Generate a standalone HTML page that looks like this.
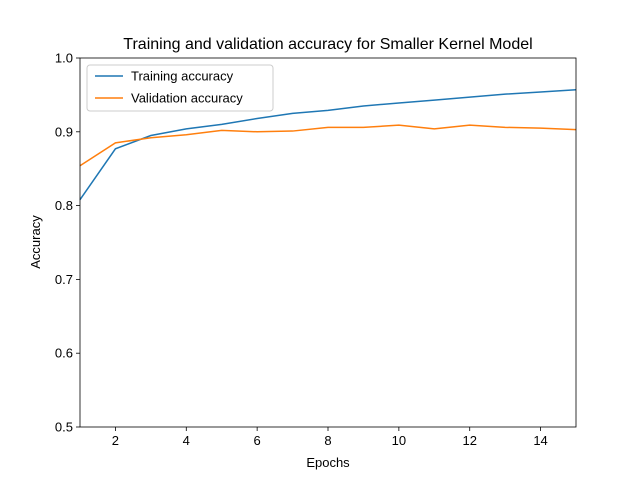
<!DOCTYPE html>
<html><head><meta charset="utf-8"><style>
body{margin:0;background:#fff;}
svg{font-family:"Liberation Sans","DejaVu Sans",sans-serif;}
</style></head><body>
<svg id="chart" width="640" height="480" xmlns="http://www.w3.org/2000/svg">
<rect width="640" height="480" fill="#fff"/>
<text x="328" y="49" text-anchor="middle" font-size="16">Training and validation accuracy for Smaller Kernel Model</text>
<g id="plot"></g>
<text x="328" y="467" text-anchor="middle" font-size="13">Epochs</text>
<text transform="translate(40,242) rotate(-90)" text-anchor="middle" font-size="13">Accuracy</text>
</svg>
<script>
const epochs=[1,2,3,4,5,6,7,8,9,10,11,12,13,14,15];
const trainAcc=[0.808,0.877,0.895,0.904,0.910,0.918,0.925,0.929,0.935,0.939,0.943,0.947,0.951,0.954,0.957];
const valAcc=[0.854,0.885,0.892,0.896,0.902,0.900,0.901,0.906,0.906,0.909,0.904,0.909,0.906,0.905,0.903];
const xTicks=[2,4,6,8,10,12,14];
const yTicks=[0.5,0.6,0.7,0.8,0.9,1.0];
const L=80,R=576,T=58,B=427;
const xs=v=>L+(v-1)/(15-1)*(R-L);
const ys=v=>B-(v-0.5)/(1.0-0.5)*(B-T);
const NS="http://www.w3.org/2000/svg";
const g=document.getElementById('plot');
function mk(t,a){const e=document.createElementNS(NS,t);for(const k in a)e.setAttribute(k,a[k]);g.appendChild(e);return e;}
xTicks.forEach(v=>{
  const l=mk('line',{x1:xs(v),x2:xs(v),y1:B,y2:B+4,stroke:'#000','stroke-width':0.8});
  
  
  const t=mk('text',{x:xs(v),y:B+18,'text-anchor':'middle','font-size':13});
  t.textContent=v;
  
  
});
yTicks.forEach(v=>{
  const l=mk('line',{x1:L-4,x2:L,y1:ys(v),y2:ys(v),stroke:'#000','stroke-width':0.8});
  
  
  const t=mk('text',{x:L-7,y:ys(v)+4.5,'text-anchor':'end','font-size':13});
  t.textContent=v.toFixed(1);
  
  
});
function line(arr,color,name){
  const p=mk('polyline',{points:arr.map((v,i)=>xs(epochs[i])+','+ys(v)).join(' '),fill:'none',stroke:color,'stroke-width':1.5});
  
  
}
line(trainAcc,'#1f77b4','training-accuracy-line');
line(valAcc,'#ff7f0e','validation-accuracy-line');
const frame=mk('rect',{x:L,y:T,width:R-L,height:B-T,fill:'none',stroke:'#000','stroke-width':0.8});


const lg=mk('rect',{x:87,y:65,width:186,height:46,fill:'#fff','fill-opacity':0.8,stroke:'#ccc',rx:3});


[['Training accuracy','#1f77b4',76],['Validation accuracy','#ff7f0e',98]].forEach(([n,c,y])=>{
  const l=mk('line',{x1:95,x2:123,y1:y,y2:y,stroke:c,'stroke-width':1.5});
  
  
  const t=mk('text',{x:131,y:y+4.5,'font-size':13});
  t.textContent=n;
  
  
});
</script>
</body></html>
